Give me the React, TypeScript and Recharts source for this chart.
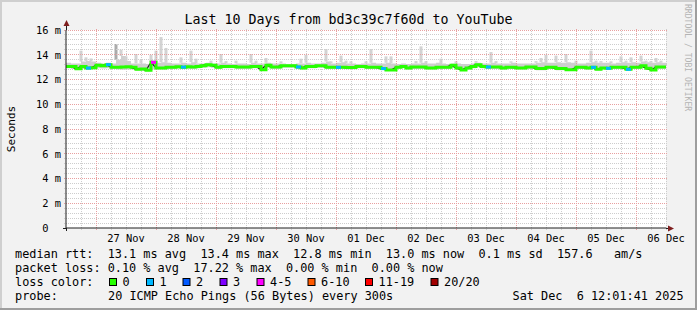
import React from 'react';
import {
  ComposedChart, XAxis, YAxis, CartesianGrid, Area, Bar, Line, Scatter,
  ReferenceLine, Cell,
} from 'recharts';

const FONT = '"DejaVu Sans Mono", monospace';

// ---- data -------------------------------------------------------------
const titleText = 'Last 10 Days from bd3c39c7f60d to YouTube';
const dayLabels = ['27 Nov', '28 Nov', '29 Nov', '30 Nov', '01 Dec', '02 Dec', '03 Dec', '04 Dec', '05 Dec', '06 Dec'];
const dayTickHours = [24, 48, 72, 96, 120, 144, 168, 192, 216, 240];
const yTicks = [0, 2, 4, 6, 8, 10, 12, 14, 16];
const stepHours = 2; // one sample every 2 hours, starting Nov 26 12:00

const medianMs = [
  13.06, 13.06, 12.87, 13.05, 12.92, 12.95, 13.15, 13.12, 13.2, 13.0,
  13.0, 13.02, 13.04, 12.98, 12.82, 12.85, 12.75, 13.39, 12.93, 12.93,
  12.98, 12.98, 13.04, 13.0, 13.04, 13.01, 13.06, 13.12, 13.2, 13.15,
  12.98, 13.06, 13.06, 13.06, 13.01, 13.01, 13.01, 13.06, 13.06, 12.79,
  13.15, 13.01, 13.01, 13.12, 13.12, 13.12, 13.01, 12.93, 13.06, 13.06,
  13.12, 13.12, 12.98, 12.98, 12.98, 12.98, 12.96, 12.96, 13.06, 13.06,
  12.98, 12.98, 12.98, 12.88, 12.77, 12.77, 12.98, 13.06, 12.93, 13.01,
  13.01, 13.01, 12.93, 12.93, 12.98, 12.98, 12.98, 13.15, 12.93, 12.77,
  12.93, 13.06, 13.2, 13.06, 13.01, 13.01, 13.01, 12.93, 12.98, 12.98,
  12.93, 12.93, 13.01, 13.01, 12.88, 12.88, 12.98, 12.98, 12.88, 12.88,
  12.79, 12.79, 12.98, 12.98, 12.93, 12.98, 12.82, 12.93, 12.9, 12.98,
  12.98, 12.98, 12.82, 12.98, 12.98, 13.12, 12.9, 12.77, 13.01, 13.01,
  13.01,
];

const smokeLoMs = [
  12.9, 12.85, 12.78, 12.85, 12.8, 12.82, 12.9, 12.88, 12.9, 12.85,
  12.8, 12.78, 12.8, 12.8, 12.72, 12.75, 12.66, 12.8, 12.8, 12.8,
  12.85, 12.85, 12.88, 12.85, 12.85, 12.85, 12.9, 12.95, 12.98, 12.95,
  12.85, 12.9, 12.9, 12.9, 12.85, 12.85, 12.85, 12.9, 12.9, 12.7,
  12.95, 12.85, 12.85, 12.95, 12.95, 12.95, 12.85, 12.8, 12.9, 12.9,
  12.95, 12.95, 12.85, 12.85, 12.85, 12.85, 12.82, 12.82, 12.9, 12.9,
  12.85, 12.85, 12.85, 12.78, 12.68, 12.68, 12.85, 12.9, 12.8, 12.85,
  12.85, 12.85, 12.8, 12.8, 12.85, 12.85, 12.85, 12.95, 12.8, 12.68,
  12.8, 12.9, 12.98, 12.9, 12.85, 12.85, 12.85, 12.8, 12.85, 12.85,
  12.8, 12.8, 12.85, 12.85, 12.75, 12.75, 12.85, 12.85, 12.75, 12.75,
  12.7, 12.7, 12.85, 12.85, 12.8, 12.85, 12.72, 12.8, 12.78, 12.85,
  12.85, 12.85, 12.72, 12.85, 12.85, 12.95, 12.78, 12.68, 12.85, 12.85,
  12.85,
];

const smokeHiMs = [
  13.35, 13.3, 13.3, 13.45, 13.5, 13.45, 13.35, 13.3, 13.35, 13.3,
  13.6, 13.9, 13.5, 13.3, 13.3, 13.3, 13.25, 13.45, 13.35, 13.4,
  13.35, 13.3, 13.3, 13.35, 13.3, 13.4, 13.3, 13.3, 13.35, 13.3,
  13.3, 13.35, 13.3, 13.25, 13.3, 13.3, 13.25, 13.35, 13.3, 13.3,
  13.35, 13.3, 13.3, 13.3, 13.25, 13.25, 13.3, 13.3, 13.35, 13.3,
  13.3, 13.35, 13.45, 13.3, 13.35, 13.4, 13.3, 13.3, 13.25, 13.3,
  13.3, 13.35, 13.3, 13.3, 13.35, 13.3, 13.25, 13.3, 13.25, 13.3,
  13.3, 13.35, 13.3, 13.3, 13.35, 13.3, 13.25, 13.3, 13.3, 13.25,
  13.25, 13.3, 13.35, 13.3, 13.3, 13.35, 13.3, 13.3, 13.3, 13.35,
  13.3, 13.3, 13.3, 13.3, 13.35, 13.4, 13.35, 13.35, 13.4, 13.35,
  13.4, 13.35, 13.3, 13.3, 13.35, 13.4, 13.35, 13.35, 13.35, 13.3,
  13.35, 13.4, 13.35, 13.4, 13.35, 13.45, 13.4, 13.35, 13.4, 13.35,
  13.35,
];

// thin smoke spikes (sample index, top in ms)
const spikeIndex = [
  3, 4, 5, 10, 11, 12, 14, 15, 17, 18, 19, 20, 23, 25, 26, 29, 31, 32, 34, 37,
  38, 40, 43, 47, 48, 52, 53, 55, 56, 57, 60, 61, 64, 65, 70, 71, 72, 75, 78, 82,
  85, 86, 89, 94, 95, 96, 98, 100, 102, 105, 106, 107, 109, 111, 112, 113, 115, 116, 117, 118,
  119,
];
const spikeTopMs = [
  14.33, 13.79, 13.7, 14.87, 14.41, 13.87, 14.06, 13.6, 14.0, 14.33, 15.43, 14.55, 13.79, 14.33, 13.68, 13.52, 14.06, 13.49, 13.52, 14.06,
  13.52, 13.74, 13.47, 13.68, 14.0, 14.46, 13.47, 13.93, 13.52, 13.47, 13.47, 14.46, 13.87, 13.87, 13.49, 14.68, 13.49, 13.68, 13.47, 13.49,
  14.22, 13.49, 13.47, 13.49, 13.74, 14.0, 13.93, 14.06, 13.52, 14.33, 13.52, 13.49, 13.47, 13.87, 13.52, 13.79, 13.93, 13.52, 13.49, 13.74,
  13.52,
];
const darkSpikeIndex = [10];

// samples with packet loss (sample index, loss colour class)
const lossIndex = [4, 8, 17, 23, 46, 54, 63, 84, 105, 108, 112];
const lossClass = [1, 1, 4, 1, 1, 1, 1, 1, 1, 1, 1];

const lossLabels = ['0', '1', '2', '3', '4-5', '6-10', '11-19', '20/20'];
const lossColors = ['#26ff00', '#00b8ff', '#0059ff', '#7e00ff', '#ff00ff', '#ff5a00', '#ff0000', '#a10000'];

const legendRtt = 'median rtt:  13.1 ms avg  13.4 ms max  12.8 ms min  13.0 ms now  0.1 ms sd  157.6   am/s';
const legendLoss = 'packet loss: 0.10 % avg  17.22 % max  0.00 % min  0.00 % now';
const legendColorHead = 'loss color:';
const legendProbeHead = 'probe:';
const legendProbe = '20 ICMP Echo Pings (56 Bytes) every 300s';
const legendDate = 'Sat Dec  6 12:01:41 2025';
const watermark = 'RRDTOOL / TOBI OETIKER';

// ---- derived table ----------------------------------------------------
type Row = { t: number; med: number; lo: number; hi: number; spike: number | null; dark: boolean };
const data: Row[] = medianMs.map((m, i) => ({
  t: i * stepHours, med: m, lo: smokeLoMs[i], hi: smokeHiMs[i], spike: null, dark: false,
}));
spikeIndex.forEach((idx, k) => { data[idx].spike = spikeTopMs[k]; });
darkSpikeIndex.forEach((idx) => { data[idx].dark = true; });
const lossData = lossIndex.map((idx, k) => ({ t: data[idx].t, med: data[idx].med, cls: lossClass[k] }));

// grid positions (grid lines poke 2px past the plot edges, as rrdtool does)
const X_EXT = 0.8;   // 2px in hours
const Y_EXT = 0.16;  // 2px in ms
const minorY: number[] = [];
for (let k = 1; k < 40; k++) if (k % 5 !== 0) minorY.push(+(k * 0.4).toFixed(2));
const majorY = [2, 4, 6, 8, 10, 12, 14, 16];
const minorX: number[] = [];
const majorX: number[] = [];
for (let h = 6; h <= 240; h += 6) { if ((h - 12) % 24 === 0) majorX.push(h); else minorX.push(h); }

// ---- components -------------------------------------------------------
const YTick = (p: any) => {
  const v = p.payload.value;
  const label = v === 0 ? '0\u00a0\u00a0' : `${v} m`;
  return (
    <text x={p.x} y={p.y} dy={3.8} textAnchor="end" fontFamily={FONT} fontSize={10.4} fill="#000">{label}</text>
  );
};

const XTick = (p: any) => {
  const idx = dayTickHours.indexOf(p.payload.value);
  return (
    <text x={p.x} y={p.y} dy={13.7} textAnchor="middle" fontFamily={FONT} fontSize={10.4} fill="#000">{dayLabels[idx]}</text>
  );
};

const YDecor = (props: any) => {
  const vb = props.viewBox || { x: 8, y: 30, width: 58, height: 198 };
  const ax = vb.x + vb.width;
  const top = vb.y;
  const bottom = vb.y + vb.height;
  const mid = vb.y + vb.height / 2;
  return (
    <g>
      <line x1={ax + 0.5} y1={top} x2={ax + 0.5} y2={top - 5} stroke="#1f1f1f" />
      <line x1={ax + 0.5} y1={bottom} x2={ax + 0.5} y2={bottom + 3} stroke="#1f1f1f" />
      <polygon points={`${ax - 2.5},${top - 4} ${ax + 3.5},${top - 4} ${ax + 0.5},${top - 10}`} fill="#7f1f1f" />
      <text transform={`translate(14.5, ${mid}) rotate(-90)`} textAnchor="middle" fontFamily={FONT} fontSize={11} fill="#000">Seconds</text>
    </g>
  );
};

const XDecor = (props: any) => {
  const vb = props.viewBox || { x: 66, y: 228, width: 600, height: 30 };
  const ax = vb.x + vb.width;
  const y = vb.y;
  return (
    <g>
      <line x1={vb.x - 3} y1={y + 0.5} x2={vb.x} y2={y + 0.5} stroke="#1f1f1f" />
      <line x1={ax} y1={y + 0.5} x2={ax + 3} y2={y + 0.5} stroke="#1f1f1f" />
      <polygon points={`${ax + 2},${y - 2.5} ${ax + 2},${y + 3.5} ${ax + 8},${y + 0.5}`} fill="#7f1f1f" />
    </g>
  );
};

const LossMark = (p: any) => {
  const cls = p.payload ? p.payload.cls : 1;
  return <rect x={p.cx} y={p.cy - 1.5} width={5} height={3} fill={lossColors[cls]} />;
};

const boxX = [109, 146, 182.5, 219.5, 256.5, 307.5, 365, 430.5];

const hLine = (v: number, color: string, key: string) => (
  <ReferenceLine
    key={key}
    segment={[{ x: -X_EXT, y: v }, { x: 240 + X_EXT, y: v }]}
    ifOverflow="visible"
    stroke={color}
    strokeDasharray="1 1"
    shapeRendering="crispEdges"
  />
);
const vLine = (v: number, color: string, key: string) => (
  <ReferenceLine
    key={key}
    segment={[{ x: v, y: -Y_EXT }, { x: v, y: 16 + Y_EXT }]}
    ifOverflow="visible"
    stroke={color}
    strokeDasharray="1 1"
    shapeRendering="crispEdges"
  />
);

export default function App() {
  const txt = { fontFamily: FONT, fontSize: 11.85, fill: '#000' } as const;
  const pre = { xmlSpace: 'preserve', style: { whiteSpace: 'pre' } } as any;
  const MINOR = '#cdcdcd';
  const MAJOR = '#e8a0a0';
  return (
    <div style={{ position: 'absolute', left: 0, top: 0, width: 697, height: 310, background: '#f2f2f2', overflow: 'hidden' }}>
      <ComposedChart
        width={697}
        height={310}
        data={data}
        margin={{ top: 30, right: 31, bottom: 52, left: 8 }}
      >
        <CartesianGrid horizontal={false} vertical={false} fill="#ffffff" fillOpacity={1} stroke="none" />
        {minorY.map((v) => hLine(v, MINOR, `my${v}`))}
        {minorX.map((v) => vLine(v, MINOR, `mx${v}`))}
        {majorY.map((v) => hLine(v, MAJOR, `My${v}`))}
        {majorX.map((v) => vLine(v, MAJOR, `Mx${v}`))}
        <XAxis
          dataKey="t"
          type="number"
          domain={[0, 240]}
          ticks={dayTickHours}
          interval={0}
          tickLine={false}
          tickSize={0}
          tickMargin={0}
          height={30}
          axisLine={{ stroke: '#1f1f1f' }}
          tick={<XTick />}
          label={<XDecor />}
        />
        <YAxis
          type="number"
          domain={[0, 16]}
          ticks={yTicks}
          interval={0}
          allowDataOverflow
          tickLine={false}
          tickSize={0}
          tickMargin={5}
          width={58}
          axisLine={{ stroke: '#1f1f1f' }}
          tick={<YTick />}
          label={<YDecor />}
        />
        <Area
          type="stepAfter"
          dataKey={(d: Row) => [d.lo, d.hi]}
          stroke="none"
          fill="#cfcfcf"
          fillOpacity={1}
          isAnimationActive={false}
        />
        <Bar
          dataKey={(d: Row) => (d.spike == null ? null : [d.hi, d.spike])}
          barSize={3}
          isAnimationActive={false}
        >
          {data.map((d, i) => (
            <Cell key={i} fill={d.dark ? '#ababab' : '#d3d3d3'} />
          ))}
        </Bar>
        <Line type="linear" dataKey="med" stroke="#1a1a1a" strokeWidth={1.2} dot={false} isAnimationActive={false} />
        <Line type="stepAfter" dataKey="med" stroke="#26ff00" strokeWidth={3} dot={false} isAnimationActive={false} />
        <Scatter data={lossData} dataKey="med" shape={<LossMark />} isAnimationActive={false} />
      </ComposedChart>

      <svg width={697} height={310} style={{ position: 'absolute', left: 0, top: 0, pointerEvents: 'none' }}>
        <rect x={0} y={0} width={697} height={2} fill="#cfcfcf" />
        <rect x={0} y={0} width={2} height={310} fill="#cfcfcf" />
        <rect x={0} y={308} width={697} height={2} fill="#9e9e9e" />
        <rect x={695} y={0} width={2} height={310} fill="#9e9e9e" />

        <text x={348.5} y={23.5} textAnchor="middle" fontFamily={FONT} fontSize={13.3} fill="#000">{titleText}</text>

        <text transform="translate(684.5, 4) rotate(90)" fontFamily={FONT} fontSize={8.1} fill="#b4b4b4" {...pre}>{watermark}</text>

        <text x={15} y={258.3} {...txt} {...pre}>{legendRtt}</text>
        <text x={15} y={272.3} {...txt} {...pre}>{legendLoss}</text>

        <text x={15} y={286.3} {...txt}>{legendColorHead}</text>
        {lossLabels.map((l, i) => (
          <g key={l}>
            <rect x={boxX[i] + 0.5} y={278.5} width={7} height={7} fill={lossColors[i]} stroke="#000" strokeWidth={1} />
            <text x={boxX[i] + 13.5} y={286.3} {...txt}>{l}</text>
          </g>
        ))}

        <text x={15} y={300.3} {...txt}>{legendProbeHead}</text>
        <text x={108} y={300.3} {...txt}>{legendProbe}</text>
        <text x={512.5} y={300.3} {...txt} {...pre}>{legendDate}</text>
      </svg>
    </div>
  );
}
